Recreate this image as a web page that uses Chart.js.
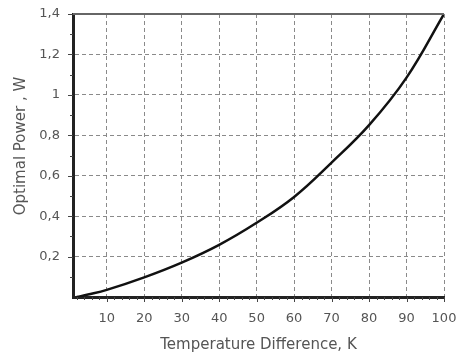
<!DOCTYPE html>
<html>
<head>
<meta charset="utf-8">
<script src="https://cdn.jsdelivr.net/npm/chart.js@4.4.1/dist/chart.umd.min.js"></script>
<style>
  html, body { margin: 0; padding: 0; background: #fff; }
  #wrap { width: 457px; height: 354px; }
</style>
</head>
<body>
<div id="wrap"><canvas id="chart" width="457" height="354"></canvas></div>
<script>
// values
const deltaT = [2, 5, 10, 20, 30, 40, 50, 60, 70, 80, 90, 100];
const power = [0, 0.012, 0.035, 0.097, 0.17, 0.258, 0.367, 0.495, 0.665, 0.85, 1.085, 1.4];
const xTicks = [10, 20, 30, 40, 50, 60, 70, 80, 90, 100];
const yTicks = [0.2, 0.4, 0.6, 0.8, 1, 1.2, 1.4];

const textColor = '#555';
const gridColor = '#8a8a8a';

// top frame line + small tick marks outside the axes
const frame = {
    id: 'frame',
    afterDraw(chart) {
        const ctx = chart.ctx;
        const a = chart.chartArea;
        const xs = chart.scales.x, ys = chart.scales.y;
        ctx.save();
        ctx.strokeStyle = '#666';
        ctx.lineWidth = 2;
        ctx.beginPath();
        ctx.moveTo(a.left, a.top);
        ctx.lineTo(a.right, a.top);
        ctx.stroke();

        ctx.strokeStyle = '#444';
        ctx.lineWidth = 1;
        ctx.beginPath();
        for (let v = 2; v <= 100; v += 2) {
            const px = Math.round(xs.getPixelForValue(v)) + 0.5;
            const len = v % 10 === 0 ? 5 : 3;
            ctx.moveTo(px, a.bottom);
            ctx.lineTo(px, a.bottom + len);
        }
        for (let i = 1; i <= 14; i++) {
            const py = Math.round(ys.getPixelForValue(i / 10)) + 0.5;
            const len = i % 2 === 0 ? 5 : 3;
            ctx.moveTo(a.left - len, py);
            ctx.lineTo(a.left, py);
        }
        ctx.stroke();
        ctx.restore();
    }
};

new Chart(document.getElementById('chart'), {
    type: 'line',
    data: {
        datasets: [{
            data: deltaT.map((x, i) => ({ x: x, y: power[i] })),
            borderColor: '#111',
            borderWidth: 2.5,
            pointRadius: 0,
            tension: 0.4,
            fill: false
        }]
    },
    options: {
        responsive: false,
        animation: false,
        layout: { padding: { top: 14, right: 13, left: 0, bottom: 0 } },
        plugins: { legend: { display: false }, tooltip: { enabled: false } },
        scales: {
            x: {
                type: 'linear',
                min: 1,
                max: 100,
                afterBuildTicks: scale => { scale.ticks = xTicks.map(v => ({ value: v })); },
                afterFit: scale => {
                    scale.height = 57;
                    scale.paddingLeft = 0;
                    scale.paddingRight = 0;
                },
                grid: { color: gridColor, lineWidth: 1, drawTicks: false },
                border: { display: true, color: '#222', width: 3, dash: [4, 3] },
                ticks: {
                    padding: 14,
                    color: textColor,
                    font: { family: 'DejaVu Sans', size: 13 },
                    maxRotation: 0,
                    autoSkip: false
                },
                title: {
                    display: true,
                    text: 'Temperature Difference, K',
                    color: textColor,
                    font: { family: 'DejaVu Sans', size: 15 },
                    padding: 0
                }
            },
            y: {
                min: 0,
                max: 1.4,
                afterBuildTicks: scale => { scale.ticks = yTicks.map(v => ({ value: v })); },
                afterFit: scale => {
                    scale.width = 73;
                    scale.paddingTop = 0;
                    scale.paddingBottom = 0;
                },
                grid: { color: gridColor, lineWidth: 1, drawTicks: false },
                border: { display: true, color: '#222', width: 3, dash: [4, 3] },
                ticks: {
                    padding: 13,
                    color: textColor,
                    font: { family: 'DejaVu Sans', size: 13 },
                    callback: v => String(v).replace('.', ',')
                },
                title: {
                    display: true,
                    text: '    Optimal Power , W',
                    color: textColor,
                    font: { family: 'DejaVu Sans', size: 15 },
                    padding: { top: 12, bottom: 0 }
                }
            }
        }
    },
    plugins: [frame]
});
</script>
</body>
</html>
